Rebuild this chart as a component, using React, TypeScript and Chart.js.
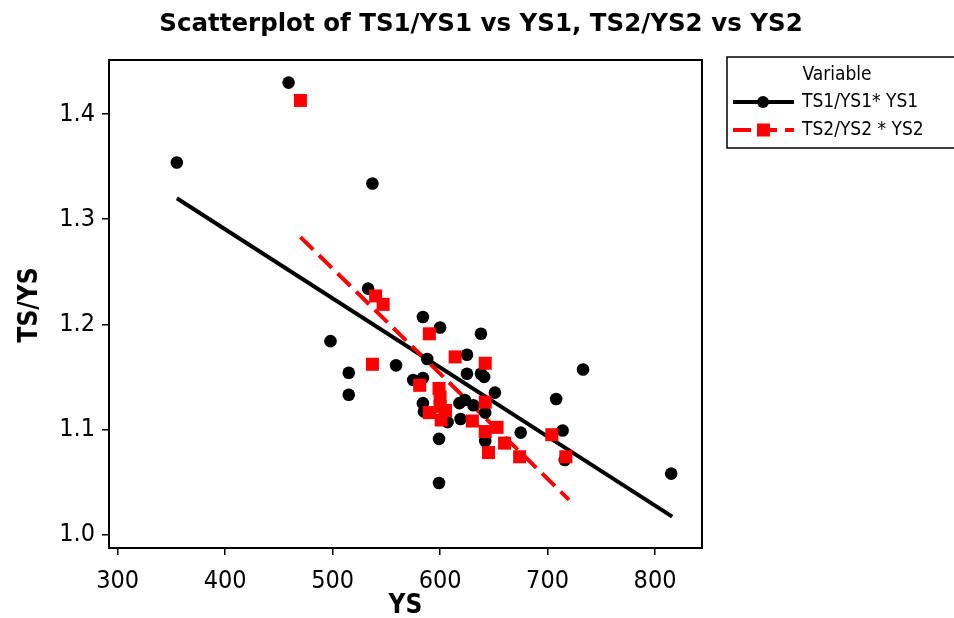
import React, { useEffect, useRef } from "react";
import { Chart, registerables } from "chart.js";

Chart.register(...registerables);

const TITLE = "Scatterplot of TS1/YS1 vs YS1, TS2/YS2 vs YS2";
const X_TITLE = "YS";
const Y_TITLE = "TS/YS";
const LEGEND_TITLE = "Variable";
const SERIES1_LABEL = "TS1/YS1* YS1";
const SERIES2_LABEL = "TS2/YS2 * YS2";

const xTicks = [300, 400, 500, 600, 700, 800];
const yTicks = [1.0, 1.1, 1.2, 1.3, 1.4];

// Series 1: YS1 vs TS1/YS1 (black circles)
const ys1 = [355, 459, 537, 533, 498, 515, 515, 559, 575, 584, 584, 600, 588, 584, 585, 607, 618, 623, 619, 631, 642, 599, 599, 638, 625, 625, 638, 641, 651, 642, 675, 708, 733, 714, 716, 815];
const ratio1 = [1.354, 1.430, 1.334, 1.234, 1.184, 1.154, 1.133, 1.161, 1.147, 1.149, 1.207, 1.197, 1.167, 1.125, 1.117, 1.107, 1.125, 1.128, 1.110, 1.123, 1.116, 1.091, 1.049, 1.191, 1.171, 1.153, 1.153, 1.150, 1.135, 1.089, 1.097, 1.129, 1.157, 1.099, 1.071, 1.058];

// Series 2: YS2 vs TS2/YS2 (red squares)
const ys2 = [470, 537, 540, 547, 590, 581, 614, 642, 599, 600, 600, 601, 590, 605, 642, 630, 642, 653, 660, 645, 674, 704, 717];
const ratio2 = [1.413, 1.162, 1.227, 1.219, 1.191, 1.142, 1.169, 1.163, 1.139, 1.131, 1.122, 1.109, 1.116, 1.118, 1.126, 1.108, 1.098, 1.102, 1.087, 1.078, 1.074, 1.095, 1.074];

// Fitted regression lines
const fit1X = [355, 816];
const fit1Y = [1.320, 1.017];
const fit2X = [470, 720];
const fit2Y = [1.283, 1.033];

const X_MIN = 291.9;
const X_MAX = 843.7;
const Y_MIN = 0.9872;
const Y_MAX = 1.4515;

const FONT = '"DejaVu Sans Condensed", "DejaVu Sans", sans-serif';
const FONT_WIDE = '"DejaVu Sans", sans-serif';

const pts = (xs: number[], ys: number[]) => xs.map((x, i) => ({ x, y: ys[i] }));

const decorPlugin = {
  id: "decor",
  afterDraw(chart: any) {
    const ctx = chart.ctx as CanvasRenderingContext2D;
    const a = chart.chartArea;
    ctx.save();
    // frame
    ctx.strokeStyle = "#000";
    ctx.lineWidth = 2;
    ctx.strokeRect(a.left, a.top, a.right - a.left, a.bottom - a.top);
    // title
    ctx.fillStyle = "#000";
    ctx.textAlign = "center";
    ctx.textBaseline = "middle";
    ctx.font = `bold 24.5px ${FONT_WIDE}`;
    ctx.fillText(TITLE, 481, 25);
    // axis titles
    ctx.font = `bold 26px ${FONT}`;
    ctx.fillText(X_TITLE, (a.left + a.right) / 2, 606);
    ctx.save();
    ctx.translate(30, 305);
    ctx.rotate(-Math.PI / 2);
    ctx.fillText(Y_TITLE, 0, 0);
    ctx.restore();
    // legend
    const lx = 727, ly = 57, lw = 240, lh = 91;
    ctx.lineWidth = 1.5;
    ctx.strokeRect(lx, ly, lw, lh);
    ctx.font = `19px ${FONT}`;
    ctx.textAlign = "center";
    ctx.fillText(LEGEND_TITLE, 837, 75);
    ctx.textAlign = "left";
    // row 1
    let y = 102;
    ctx.strokeStyle = "#000";
    ctx.lineWidth = 4;
    ctx.setLineDash([]);
    ctx.beginPath();
    ctx.moveTo(733, y);
    ctx.lineTo(794, y);
    ctx.stroke();
    ctx.beginPath();
    ctx.arc(763, y, 6, 0, Math.PI * 2);
    ctx.fill();
    ctx.fillText(SERIES1_LABEL, 802, y);
    // row 2
    y = 130;
    ctx.strokeStyle = "#ff0000";
    ctx.fillStyle = "#ff0000";
    ctx.setLineDash([18, 8]);
    ctx.beginPath();
    ctx.moveTo(733, y);
    ctx.lineTo(794, y);
    ctx.stroke();
    ctx.setLineDash([]);
    ctx.fillRect(757, y - 6.5, 13, 13);
    ctx.fillStyle = "#000";
    ctx.fillText(SERIES2_LABEL, 802, y);
    ctx.restore();
  },
};

export default function App() {
  const ref = useRef<HTMLCanvasElement | null>(null);
  useEffect(() => {
    document.body.style.margin = "0";
    const canvas = ref.current!;
    const chart = new Chart(canvas, {
      type: "scatter",
      data: {
        datasets: [
          {
            label: SERIES2_LABEL,
            data: pts(ys2, ratio2),
            pointStyle: "rect",
            pointRadius: 9.2,
            backgroundColor: "#ff0000",
            borderColor: "#ff0000",
            borderWidth: 0,
            showLine: false,
          },
          {
            label: SERIES1_LABEL,
            data: pts(ys1, ratio1),
            pointStyle: "circle",
            pointRadius: 6.3,
            backgroundColor: "#000",
            borderColor: "#000",
            borderWidth: 0,
            showLine: false,
          },
          {
            label: "fit2",
            data: pts(fit2X, fit2Y),
            showLine: true,
            pointRadius: 0,
            borderColor: "#ff0000",
            borderWidth: 4,
            borderDash: [18, 8],
          },
          {
            label: "fit1",
            data: pts(fit1X, fit1Y),
            showLine: true,
            pointRadius: 0,
            borderColor: "#000",
            borderWidth: 4,
          },
        ],
      },
      options: {
        responsive: false,
        animation: false,
        devicePixelRatio: 1,
        layout: { padding: { left: 0, top: 60, right: 252, bottom: 0 } },
        plugins: {
          legend: { display: false },
          title: { display: false },
          tooltip: { enabled: false },
        },
        scales: {
          x: {
            type: "linear",
            min: X_MIN,
            max: X_MAX,
            afterBuildTicks: (s: any) => {
              s.ticks = xTicks.map((v) => ({ value: v }));
            },
            afterFit: (s: any) => {
              s.height = 70;
            },
            grid: {
              display: true,
              drawOnChartArea: false,
              drawTicks: true,
              tickLength: 7,
              color: "#000",
              lineWidth: 1.5,
            },
            border: { display: true, color: "#000", width: 2 },
            ticks: {
              color: "#000",
              padding: 11,
              font: { family: FONT, size: 25 },
              callback: (v: any) => String(v),
              maxRotation: 0,
            },
          },
          y: {
            type: "linear",
            min: Y_MIN,
            max: Y_MAX,
            afterBuildTicks: (s: any) => {
              s.ticks = yTicks.map((v) => ({ value: v }));
            },
            afterFit: (s: any) => {
              s.width = 109;
            },
            grid: {
              display: true,
              drawOnChartArea: false,
              drawTicks: true,
              tickLength: 7,
              color: "#000",
              lineWidth: 1.5,
            },
            border: { display: true, color: "#000", width: 2 },
            ticks: {
              color: "#000",
              padding: 7,
              font: { family: FONT, size: 25 },
              callback: (v: any) => Number(v).toFixed(1),
            },
          },
        },
      },
      plugins: [decorPlugin],
    });
    return () => chart.destroy();
  }, []);
  return (
    <div style={{ position: "absolute", left: 0, top: 0, width: 954, height: 618, background: "#fff" }}>
      <canvas ref={ref} width={954} height={618} style={{ width: 954, height: 618, display: "block" }} />
    </div>
  );
}
